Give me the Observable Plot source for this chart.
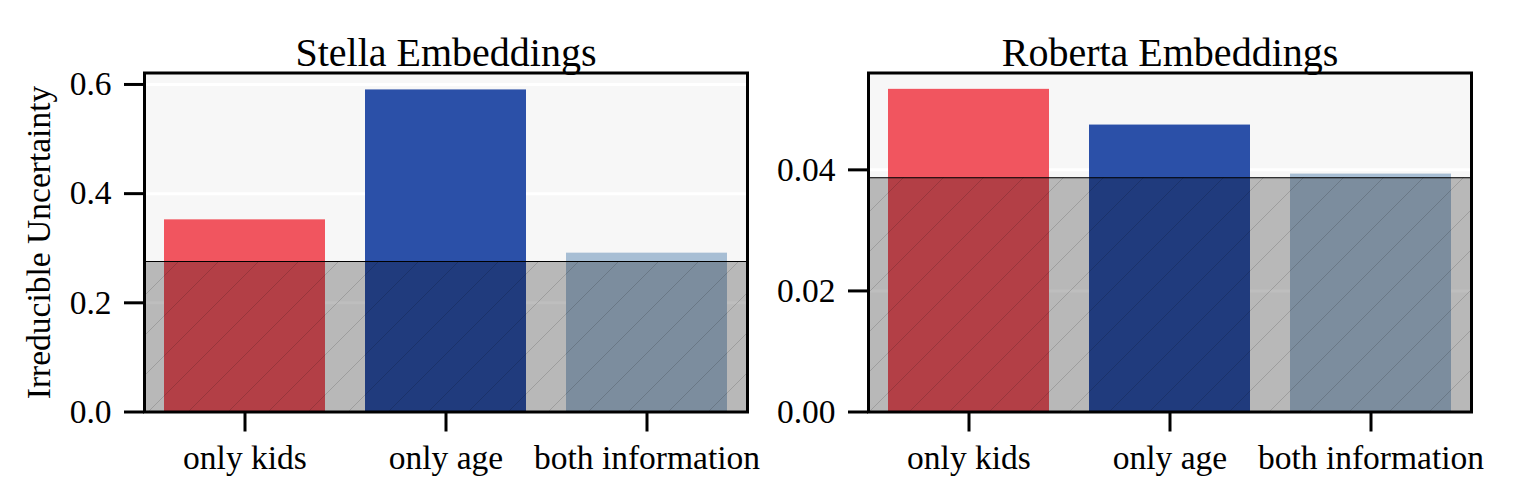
<!DOCTYPE html>
<html>
<head>
<meta charset="utf-8">
<script src="https://cdn.jsdelivr.net/npm/d3@7"></script>
<script src="https://cdn.jsdelivr.net/npm/@observablehq/plot@0.6"></script>
<style>
  html, body { margin: 0; padding: 0; background: white; }
  #wrap { display: flex; width: 1522px; height: 499px; }
  svg text { font-family: 'Liberation Serif', 'Times New Roman', serif; }
</style>
</head>
<body>
<div id="wrap"></div>
<script>
const categories = ["only kids", "only age", "both information"];
const barColors = ["#f1555f", "#2b50a8", "#a7bed4"];
const stellaValues = [0.352, 0.590, 0.291];
const robertaValues = [0.0533, 0.0474, 0.0393];
const stellaThreshold = 0.2757;
const robertaThreshold = 0.0387;
const stellaTicks = [0, 0.2, 0.4, 0.6];
const robertaTicks = [0, 0.02, 0.04];
const stellaDomain = [0, 0.621];
const robertaDomain = [0, 0.056];
const titles = ["Stella Embeddings", "Roberta Embeddings"];
const yLabel = "Irreducible Uncertainty";
const FONT = "'Liberation Serif', 'Times New Roman', serif";

function panel({title, values, threshold, ticks, fmt, domain, marginLeft, marginRight, ylabel, id}) {
  const data = categories.map((c, i) => ({cat: c, value: values[i]}));
  const svg = Plot.plot({
    width: 761, height: 499,
    marginTop: 72.5, marginBottom: 87.5, marginLeft, marginRight,
    style: {fontFamily: FONT, fontSize: "33.5px", color: "black", background: "white", overflow: "visible"},
    x: {domain: categories, paddingInner: 0.2, paddingOuter: 0.1, label: null},
    y: {domain, label: null},
    color: {domain: categories, range: barColors},
    marks: [
      Plot.frame({fill: "#f7f7f7", stroke: null}),
      Plot.gridY(ticks, {stroke: "white", strokeOpacity: 1, strokeWidth: 3}),
      Plot.barY(data, {x: "cat", y: "value", fill: "cat"}),
      Plot.rect([threshold], {y1: 0, y2: d => d, fill: "black", fillOpacity: 0.255}),
      Plot.rect([threshold], {y1: 0, y2: d => d, fill: `url(#${id})`}),
      Plot.ruleY([threshold], {stroke: "black", strokeWidth: 1.2}),
      Plot.axisY(ticks, {tickFormat: fmt, tickSize: 20, tickPadding: 13, strokeWidth: 3, fontSize: 33.5, fontFamily: FONT}),
      Plot.axisX({tickSize: 20, tickPadding: 13, strokeWidth: 3, fontSize: 33.5, fontFamily: FONT}),
      Plot.frame({stroke: "black", strokeWidth: 3}),
      Plot.text([title], {frameAnchor: "top", dy: -35, fontSize: 40, fontFamily: FONT}),
      ylabel ? Plot.text([ylabel], {frameAnchor: "left", textAnchor: "middle", dx: -105, rotate: -90, fontSize: 33.5, fontFamily: FONT}) : null
    ]
  });
  const defs = d3.select(svg).insert("defs", ":first-child");
  const pat = defs.append("pattern")
    .attr("id", id)
    .attr("patternUnits", "userSpaceOnUse")
    .attr("width", 40).attr("height", 40);
  pat.append("path")
    .attr("d", "M0,40 L40,0 M-5,5 L5,-5 M35,45 L45,35")
    .attr("stroke", "black").attr("stroke-opacity", 0.15).attr("stroke-width", 1).attr("fill", "none");
  return svg;
}

const wrap = document.getElementById("wrap");
wrap.append(panel({title: titles[0], values: stellaValues, threshold: stellaThreshold, ticks: stellaTicks, fmt: d3.format(".1f"), domain: stellaDomain, marginLeft: 144, marginRight: 14, ylabel: yLabel, id: "hatchA"}));
wrap.append(panel({title: titles[1], values: robertaValues, threshold: robertaThreshold, ticks: robertaTicks, fmt: d3.format(".2f"), domain: robertaDomain, marginLeft: 107, marginRight: 51, ylabel: null, id: "hatchB"}));
</script>
</body>
</html>
